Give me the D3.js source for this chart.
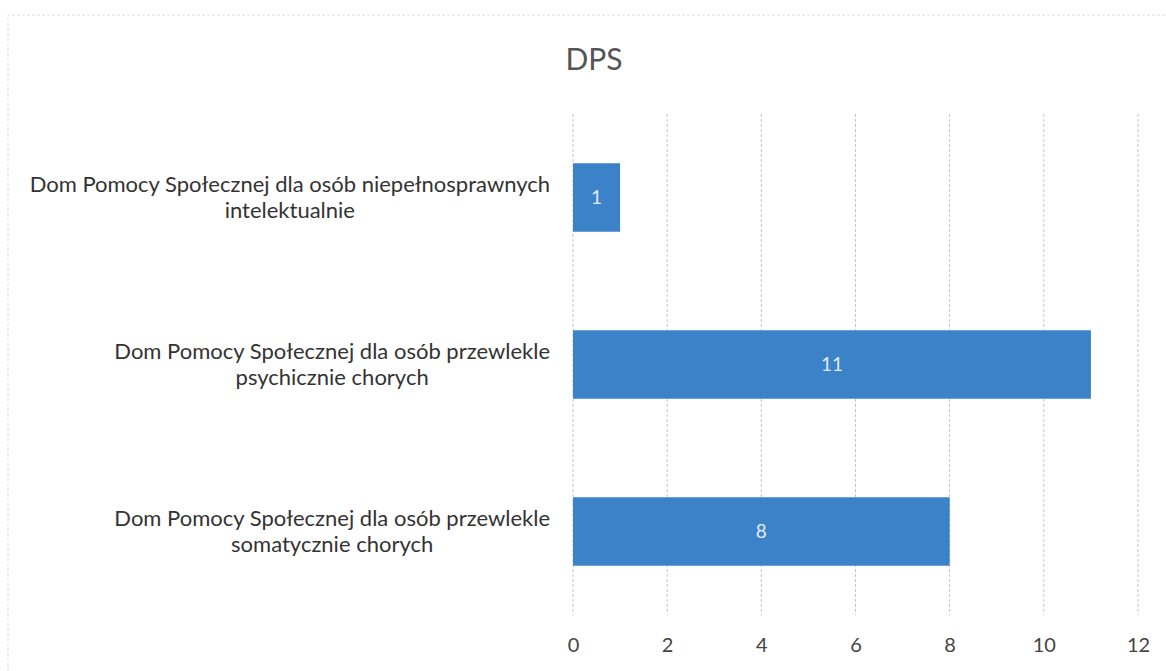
<!DOCTYPE html>
<html><head><meta charset="utf-8">
<script src="https://cdn.jsdelivr.net/npm/d3@7"></script>
<style>
body{margin:0;background:#fff;}
svg{display:block;font-family:Lato,"Open Sans",sans-serif;}
</style></head><body>
<svg id="c" width="1166" height="671"></svg>
<script>
const title = "DPS";
const categories = [
  ["Dom Pomocy Społecznej dla osób niepełnosprawnych", "intelektualnie"],
  ["Dom Pomocy Społecznej dla osób przewlekle", "psychicznie chorych"],
  ["Dom Pomocy Społecznej dla osób przewlekle", "somatycznie chorych"]
];
const values = [1, 11, 8];
const ticks = [0, 2, 4, 6, 8, 10, 12];

const svg = d3.select("#c");
// faint scan border
svg.append("path").attr("d","M8,671 L8,15 L1166,15").attr("fill","none")
  .attr("stroke","#dcdcdc").attr("stroke-width",1).attr("stroke-dasharray","3,2");

const x = d3.scaleLinear().domain([0,12]).range([573,1138]);
const y = d3.scaleBand().domain(d3.range(categories.length)).range([114,615]).paddingInner(0.59).paddingOuter(0.295);

svg.append("text").attr("x",594).attr("y",70).attr("text-anchor","middle")
  .attr("font-size",30).attr("fill","#555").text(title);

// gridlines
svg.append("g").selectAll("line").data(ticks).join("line")
  .attr("x1",d=>x(d)).attr("x2",d=>x(d)).attr("y1",114).attr("y2",615)
  .attr("stroke","#c4c4c4").attr("stroke-width",1).attr("stroke-dasharray","3,2");

// axis labels
const xa = svg.append("g").attr("transform","translate(0,615)")
  .call(d3.axisBottom(x).tickValues(ticks).tickSize(0).tickPadding(23));
xa.select(".domain").remove();
xa.selectAll("text").attr("font-size",20).attr("fill","#444").attr("font-family","Lato,'Open Sans',sans-serif");

// bars
svg.append("g").selectAll("rect").data(values).join("rect")
  .attr("x",x(0)).attr("y",(d,i)=>y(i)).attr("width",d=>x(d)-x(0)).attr("height",y.bandwidth())
  .attr("fill","#3b82c8");

svg.append("g").selectAll("text").data(values).join("text")
  .attr("x",d=>(x(0)+x(d))/2).attr("y",(d,i)=>y(i)+y.bandwidth()/2).attr("dy","0.35em")
  .attr("text-anchor","middle").attr("font-size",19).attr("fill","#e3ebf7").text(d=>d);

// category labels
categories.forEach((lines,i)=>{
  const cy = y(i)+y.bandwidth()/2;
  const g = svg.append("g");
  const t = g.append("text").attr("font-size",22).attr("fill","#333").attr("text-anchor","middle");
  lines.forEach((l,j)=>{
    t.append("tspan").attr("x",0).attr("y",cy + (j - (lines.length-1)/2)*26).attr("dy","0.35em").text(l);
  });
  const w = d3.max(t.selectAll("tspan").nodes(), n=>n.getComputedTextLength());
  t.attr("transform",`translate(${550 - w/2},0)`);
});
</script></body></html>
